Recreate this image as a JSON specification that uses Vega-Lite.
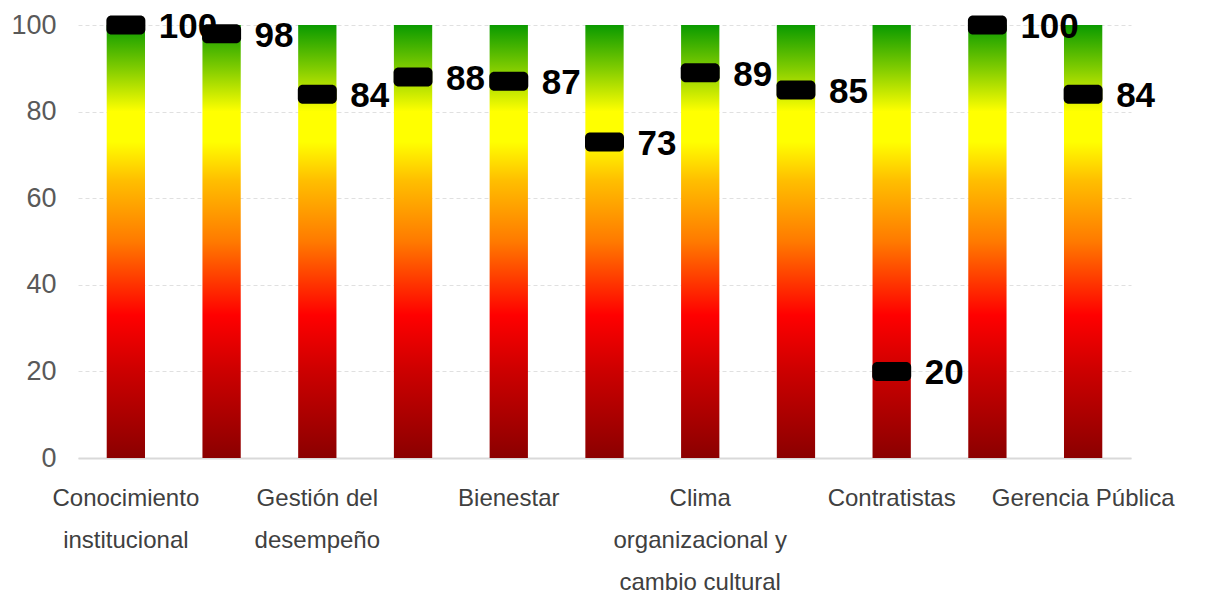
{
  "$schema": "https://vega.github.io/schema/vega-lite/v6.json",
  "autosize": "none",
  "width": 1053,
  "height": 433,
  "padding": {"left": 78, "top": 25, "right": 75, "bottom": 148},
  "background": "white",
  "config": {"view": {"stroke": null}},
  "data": {
    "values": [
      {"categoria": "Conocimiento institucional", "valor": 100},
      {"categoria": "Gestión de la información", "valor": 98},
      {"categoria": "Gestión del desempeño", "valor": 84},
      {"categoria": "Administración del talento humano", "valor": 88},
      {"categoria": "Bienestar", "valor": 87},
      {"categoria": "Salario", "valor": 73},
      {"categoria": "Clima organizacional y cambio cultural", "valor": 89},
      {"categoria": "Valores", "valor": 85},
      {"categoria": "Contratistas", "valor": 20},
      {"categoria": "Negociación colectiva", "valor": 100},
      {"categoria": "Gerencia Pública", "valor": 84}
    ]
  },
  "encoding": {
    "x": {
      "field": "categoria",
      "type": "nominal",
      "sort": null,
      "scale": {"paddingInner": 0.6, "paddingOuter": 0.3},
      "axis": {
        "title": null,
        "labelAngle": 0,
        "labelFont": "Liberation Sans, Arial, sans-serif",
        "labelFontSize": 24,
        "labelColor": "#404040",
        "labelLineHeight": 42,
        "labelPadding": 28,
        "labelBaseline": "top",
        "ticks": false,
        "domainColor": "#d9d9d9",
        "domainWidth": 2,
        "labelOverlap": false,
        "labelLimit": 400,
        "labelExpr": "datum.value == 'Conocimiento institucional' ? ['Conocimiento', 'institucional'] : datum.value == 'Gestión del desempeño' ? ['Gestión del', 'desempeño'] : datum.value == 'Clima organizacional y cambio cultural' ? ['Clima', 'organizacional y', 'cambio cultural'] : (datum.value == 'Bienestar' || datum.value == 'Contratistas' || datum.value == 'Gerencia Pública') ? datum.value : ''"
      }
    }
  },
  "layer": [
    {
      "data": {
        "values": [
          {"categoria": "Conocimiento institucional", "maximo": 100},
          {"categoria": "Gestión de la información", "maximo": 100},
          {"categoria": "Gestión del desempeño", "maximo": 100},
          {"categoria": "Administración del talento humano", "maximo": 100},
          {"categoria": "Bienestar", "maximo": 100},
          {"categoria": "Salario", "maximo": 100},
          {"categoria": "Clima organizacional y cambio cultural", "maximo": 100},
          {"categoria": "Valores", "maximo": 100},
          {"categoria": "Contratistas", "maximo": 100},
          {"categoria": "Negociación colectiva", "maximo": 100},
          {"categoria": "Gerencia Pública", "maximo": 100}
        ]
      },
      "mark": {
        "type": "bar",
        "color": {
          "gradient": "linear",
          "x1": 0, "y1": 1, "x2": 0, "y2": 0,
          "stops": [
            {"offset": 0, "color": "#8b0000"},
            {"offset": 0.2, "color": "#cc0000"},
            {"offset": 0.33, "color": "#ff0000"},
            {"offset": 0.5, "color": "#ff7a00"},
            {"offset": 0.64, "color": "#ffbe00"},
            {"offset": 0.73, "color": "#ffff00"},
            {"offset": 0.8, "color": "#ffff00"},
            {"offset": 0.9, "color": "#80cc00"},
            {"offset": 1, "color": "#0a9a00"}
          ]
        }
      },
      "encoding": {
        "y": {
          "field": "maximo",
          "type": "quantitative",
          "scale": {"domain": [0, 100]},
          "axis": {
            "title": null,
            "values": [0, 20, 40, 60, 80, 100],
            "labelFont": "Liberation Sans, Arial, sans-serif",
            "labelFontSize": 27,
            "labelColor": "#595959",
            "labelPadding": 22,
            "ticks": false,
            "domain": false,
            "grid": true,
            "gridColor": "#e0e0e0",
            "gridDash": [4, 3],
            "gridWidth": 1
          }
        }
      }
    },
    {
      "mark": {"type": "tick", "orient": "horizontal", "color": "black", "thickness": 19, "size": 39, "cornerRadius": 5, "opacity": 1},
      "encoding": {
        "y": {"field": "valor", "type": "quantitative"}
      }
    },
    {
      "mark": {
        "type": "text",
        "align": "left",
        "baseline": "middle",
        "dx": 33,
        "dy": 2,
        "font": "Liberation Sans, Arial, sans-serif",
        "fontWeight": "bold",
        "fontSize": 35,
        "color": "black"
      },
      "encoding": {
        "y": {"field": "valor", "type": "quantitative"},
        "text": {"field": "valor", "type": "quantitative"}
      }
    }
  ]
}
